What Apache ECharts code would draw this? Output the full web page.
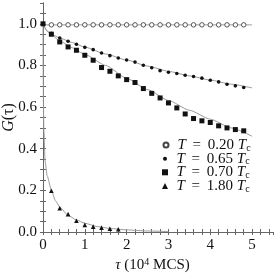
<!DOCTYPE html>
<html><head><meta charset="utf-8">
<script src="https://cdn.jsdelivr.net/npm/echarts@6/dist/echarts.min.js"></script>
<style>html,body{margin:0;padding:0;background:#fff}#c{width:275px;height:277px}</style>
</head><body><div id="c"></div>
<script>
// ---- data ----
const temps = ['0.20', '0.65', '0.70', '1.80'];
const xTickLabels = ['0', '1', '2', '3', '4', '5'];
const yTickLabels = ['0.0', '0.2', '0.4', '0.6', '0.8', '1.0'];

const tauA = [0.2,0.4,0.6,0.8,1.0,1.2,1.4,1.6,1.8,2.0,2.2,2.4,2.6,2.8,3.0,3.2,3.4,3.6,3.8,4.0,4.2,4.4,4.6,4.8];
const gA   = [0.995,0.995,0.995,0.995,0.995,0.995,0.995,0.995,0.995,0.995,0.995,0.995,0.995,0.995,0.995,0.995,0.995,0.995,0.995,0.995,0.995,0.995,0.995,0.995];

const tauB = [0.2,0.4,0.6,0.8,1.0,1.2,1.4,1.6,1.8,2.0,2.2,2.4,2.6,2.8,3.0,3.2,3.4,3.6,3.8,4.0,4.2,4.4,4.6,4.8];
const gB   = [0.955,0.932,0.916,0.902,0.887,0.876,0.860,0.847,0.836,0.826,0.816,0.801,0.789,0.775,0.767,0.761,0.753,0.747,0.739,0.729,0.721,0.710,0.702,0.694];

const tauC = [0,0.2,0.4,0.6,0.8,1.0,1.2,1.4,1.6,1.8,2.0,2.2,2.4,2.6,2.8,3.0,3.2,3.4,3.6,3.8,4.0,4.2,4.4,4.6,4.8];
const gC   = [1.0,0.950,0.913,0.889,0.873,0.849,0.825,0.790,0.772,0.750,0.732,0.718,0.689,0.666,0.644,0.620,0.596,0.567,0.545,0.534,0.526,0.510,0.500,0.492,0.486];

const tauD = [0.2,0.4,0.6,0.8,1.0,1.2,1.4,1.6,1.8];
const gD   = [0.198,0.114,0.086,0.054,0.034,0.026,0.021,0.016,0.013];

// fitted curves
const fitTauA = [0, 5];
const fitGA   = [0.995, 0.995];
const fitTauB = [0,0.1,0.2,0.4,0.7,1.0,1.5,2.0,2.5,3.0,3.5,4.0,4.5,5.0];
const fitGB   = [1.0,0.965,0.950,0.932,0.910,0.888,0.855,0.826,0.797,0.772,0.750,0.730,0.710,0.692];
const fitTauC = [0,0.1,0.2,0.4,0.7,1.0,1.5,2.0,2.5,3.0,3.5,4.0,4.5,5.0];
const fitGC   = [1.0,0.965,0.948,0.918,0.885,0.853,0.800,0.738,0.684,0.632,0.585,0.542,0.500,0.460];
const fitTauD = [0,0.005,0.01,0.02,0.05,0.1,0.2,0.3,0.4,0.6,0.8,1.0,1.3,1.6,2.0,2.5,3.0];
const fitGD   = [1.0,0.75,0.62,0.49,0.34,0.27,0.20,0.15,0.12,0.08,0.058,0.042,0.026,0.017,0.010,0.005,0.002];

// ---- chart ----
const serif = '"Liberation Serif", "DejaVu Serif", serif';
const zip = (xs, ys) => xs.map((x, i) => [x, ys[i]]);
const near = (v, step) => Math.abs(v / step - Math.round(v / step)) < 1e-6;

const markerSpec = [
  {symbol: 'circle', size: 4.5, color: '#fff', border: '#444', bw: 0.9, icon: 5},
  {symbol: 'circle', size: 3.6, color: '#111', border: '#111', bw: 0, icon: 4},
  {symbol: 'rect', size: 5, color: '#111', border: '#111', bw: 0, icon: 6},
  {symbol: 'triangle', size: 4.6, color: '#111', border: '#111', bw: 0, icon: 6}
];
const names = temps.map(t => 'T = ' + t + ' Tc');
const pts = [zip(tauA, gA), zip(tauB, gB), zip(tauC, gC), zip(tauD, gD)];
const fits = [zip(fitTauA, fitGA), zip(fitTauB, fitGB), zip(fitTauC, fitGC), zip(fitTauD, fitGD)];

const series = [];
fits.forEach((f, i) => series.push({
  type: 'line', name: 'fit' + i, data: f, showSymbol: false, symbol: 'none',
  smooth: 0.2, smoothMonotone: 'x', silent: true,
  lineStyle: {color: '#9a9a9a', width: 1}, z: 2
}));
pts.forEach((p, i) => series.push({
  type: 'scatter', name: names[i], data: p, symbol: markerSpec[i].symbol,
  symbolSize: markerSpec[i].size,
  itemStyle: {color: markerSpec[i].color, borderColor: markerSpec[i].border, borderWidth: markerSpec[i].bw, opacity: 1},
  z: 3 + i
}));

const rowCenters = [145, 158.7, 172.3, 186];
const iconCenter = 165, textStart = 176.5;
const legends = names.map((n, i) => {
  const w = markerSpec[i].icon;
  return {
    data: [n], left: iconCenter - w / 2, top: rowCenters[i] - 8, orient: 'vertical',
    itemWidth: w, itemHeight: w, selectedMode: false, padding: 0,
    formatter: () => '{i|T} \u2009= \u2009' + temps[i] + ' {i|T}{s|c}',
    textStyle: {
      fontFamily: serif, fontSize: 15, color: '#111', lineHeight: 16,
      padding: [0, 0, 0, textStart - (iconCenter + w / 2 + 5)],
      rich: {
        i: {fontFamily: serif, fontStyle: 'italic', fontSize: 15, color: '#111', lineHeight: 16},
        s: {fontFamily: serif, fontSize: 10, color: '#111', lineHeight: 10, verticalAlign: 'bottom'}
      }
    }
  };
});

const axisCommon = {
  axisLine: {show: true, lineStyle: {color: '#666', width: 1}},
  axisTick: {show: true, inside: true, length: 3, lineStyle: {color: '#666', width: 1}},
  splitLine: {show: false}
};

const chart = echarts.init(document.getElementById('c'), null, {renderer: 'canvas'});
chart.setOption({
  animation: false,
  backgroundColor: '#fff',
  grid: {left: 43, right: 2, top: 3, bottom: 45, containLabel: false, outerBoundsMode: 'none'},
  xAxis: [
    Object.assign({}, axisCommon, {
      type: 'value', position: 'bottom', min: 0, max: 5.5, interval: 0.2,
      axisLabel: {
        margin: 6, fontFamily: serif, fontSize: 15, color: '#111', showMaxLabel: false,
        formatter: v => near(v, 1) ? xTickLabels[Math.round(v)] : ''
      },
      name: '{i|τ} (10{sup|4} MCS)', nameLocation: 'middle', nameGap: 25, nameMoveOverlap: false,
      nameTextStyle: {
        fontFamily: serif, fontSize: 15, color: '#111', padding: [0, 11, 0, 0], lineHeight: 16,
        rich: {
          i: {fontFamily: serif, fontStyle: 'italic', fontSize: 15, color: '#111', lineHeight: 16},
          sup: {fontFamily: serif, fontSize: 10, color: '#111', lineHeight: 10, verticalAlign: 'top'}
        }
      }
    }),
    Object.assign({}, axisCommon, {
      type: 'value', position: 'top', min: 0, max: 5.5, interval: 0.2, axisLabel: {show: false}
    })
  ],
  yAxis: [
    Object.assign({}, axisCommon, {
      type: 'value', position: 'left', min: 0, max: 1.1, interval: 0.05,
      axisLabel: {
        margin: 6, fontFamily: serif, fontSize: 15, color: '#111', showMaxLabel: false,
        formatter: v => (near(v, 0.2) && v < 1.05) ? yTickLabels[Math.round(v / 0.2)] : ''
      },
      name: '{i|G}(τ)', nameLocation: 'middle', nameGap: 26, nameRotate: 90, nameMoveOverlap: false,
      nameTextStyle: {
        fontFamily: serif, fontSize: 16, color: '#111',
        rich: {i: {fontFamily: serif, fontStyle: 'italic', fontSize: 16, color: '#111'}}
      }
    }),
    Object.assign({}, axisCommon, {
      type: 'value', position: 'right', min: 0, max: 1.1, interval: 0.05, axisLabel: {show: false}
    })
  ],
  legend: legends,
  series: series
});
</script></body></html>
